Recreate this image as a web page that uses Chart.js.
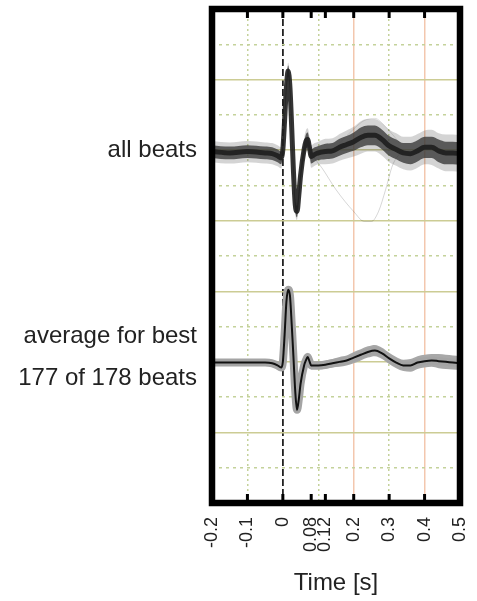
<!DOCTYPE html>
<html>
<head>
<meta charset="utf-8">
<script src="https://cdn.jsdelivr.net/npm/chart.js@4/dist/chart.umd.min.js"></script>
<style>
html,body{margin:0;padding:0;background:#fff;}
#c{display:block;}
</style>
</head>
<body>
<canvas id="c" width="477" height="601"></canvas>
<script>
// ---- data ----
const timeS = [-0.2,-0.15,-0.1,-0.05,-0.03,-0.015,-0.005,0,0.005,0.01,0.015,0.02,0.025,0.03,0.035,0.04,0.045,0.05,0.06,0.065,0.07,0.075,0.08,0.09,0.1,0.12,0.14,0.16,0.18,0.2,0.22,0.24,0.26,0.28,0.3,0.32,0.34,0.36,0.38,0.4,0.42,0.44,0.46,0.48,0.5];
const allBeatsMean = [-0.02,-0.04,-0.02,-0.04,-0.05,-0.08,-0.11,0.01,0.43,0.89,1.12,0.89,0.32,-0.31,-0.77,-0.87,-0.64,-0.36,0.01,0.12,0.15,0.04,-0.09,-0.06,-0.04,-0.02,-0.01,0.04,0.08,0.12,0.18,0.21,0.21,0.15,0.06,0.01,-0.04,-0.05,-0.01,0.04,0.04,-0.01,-0.04,-0.04,-0.05];
const allBeatsCore = [0.09,0.09,0.09,0.09,0.09,0.09,0.09,0.08,0.08,0.08,0.08,0.08,0.08,0.08,0.08,0.08,0.08,0.08,0.1,0.1,0.1,0.1,0.1,0.1,0.1,0.11,0.11,0.12,0.12,0.13,0.14,0.14,0.14,0.14,0.14,0.14,0.14,0.15,0.15,0.15,0.15,0.16,0.16,0.16,0.16];
const allBeatsOuter = [0.15,0.15,0.15,0.15,0.15,0.15,0.15,0.12,0.12,0.12,0.12,0.12,0.12,0.12,0.12,0.12,0.12,0.12,0.16,0.16,0.16,0.16,0.16,0.16,0.16,0.18,0.18,0.19,0.2,0.21,0.23,0.23,0.23,0.23,0.23,0.23,0.23,0.24,0.24,0.24,0.25,0.25,0.26,0.26,0.26];
const averageMean = [-3.01,-3.01,-3.01,-3.01,-3.02,-3.05,-3.08,-3.00,-2.61,-2.15,-1.98,-2.06,-2.47,-2.94,-3.42,-3.68,-3.53,-3.31,-3.05,-2.98,-2.93,-2.99,-3.05,-3.05,-3.05,-3.04,-3.02,-3.00,-2.98,-2.94,-2.90,-2.86,-2.84,-2.88,-2.95,-3.01,-3.05,-3.05,-3.01,-2.99,-2.98,-2.99,-3.00,-3.01,-3.02];
const averageSpread = [0.05,0.05,0.05,0.05,0.05,0.05,0.05,0.05,0.05,0.05,0.05,0.05,0.05,0.05,0.05,0.05,0.05,0.05,0.06,0.06,0.06,0.06,0.06,0.06,0.06,0.06,0.06,0.07,0.07,0.08,0.08,0.08,0.08,0.08,0.08,0.08,0.08,0.09,0.09,0.09,0.09,0.1,0.1,0.1,0.1];
const outlier1Time = [0.08,0.11,0.15,0.2,0.23,0.25,0.27,0.29,0.31,0.34];
const outlier1Vals = [-0.06,-0.25,-0.56,-0.87,-1.01,-1.01,-0.87,-0.56,-0.21,0.01];
const outlier2Time = [0.16,0.2,0.23,0.26,0.29,0.33];
const outlier2Vals = [0.1,0.3,0.42,0.45,0.33,0.1];

const xTickValues = [-0.2,-0.1,0,0.08,0.1,0.12,0.2,0.3,0.4,0.5];
const xTickLabels = ['-0.2','-0.1','0','0.08','','0.12','0.2','0.3','0.4','0.5'];
const xTickMarkValues = [-0.1,0,0.08,0.12,0.2,0.3,0.4];
const xDottedValues = [-0.1,0.1,0.3];
const xSolidValues = [0.2,0.4];
const yGridValues = [-5,-4.5,-4,-3.5,-3,-2.5,-2,-1.5,-1,-0.5,0,0.5,1,1.5,2];
const yLabelValues = [0,-2.64,-3.23];
const yLabelTexts = ['all beats','average for best','177 of 178 beats'];

// ---- build library structures ----
const pts = (ts, vs) => ts.map((t,i)=>({x:t,y:vs[i]}));
const shift = (vs, sp, s) => vs.map((v,i)=>v + s*sp[i]);

const OLIVE = '#cccc94';
const DOT = '#c4d29a';
const SALMON = '#f3c7ae';

const base = {pointRadius:0, borderWidth:0, cubicInterpolationMode:'monotone', fill:false};
const datasets = [
  Object.assign({}, base, {data:pts(timeS, averageMean), borderColor:'#111', borderWidth:2}),
  Object.assign({}, base, {data:pts(timeS, averageMean), borderColor:'#a4a4a4', borderWidth:8}),
  Object.assign({}, base, {data:pts(timeS, shift(averageMean, averageSpread, 1)), fill:'+1', backgroundColor:'#a8a8a8'}),
  Object.assign({}, base, {data:pts(timeS, shift(averageMean, averageSpread, -1))}),
  Object.assign({}, base, {data:pts(timeS, allBeatsMean), borderColor:'rgba(30,30,30,0.9)', borderWidth:5}),
  Object.assign({}, base, {data:pts(timeS, shift(allBeatsMean, allBeatsCore, 1)), fill:'+1', backgroundColor:'rgba(55,55,55,0.78)'}),
  Object.assign({}, base, {data:pts(timeS, shift(allBeatsMean, allBeatsCore, -1))}),
  Object.assign({}, base, {data:pts(timeS, shift(allBeatsMean, allBeatsOuter, 1)), fill:'+1', backgroundColor:'rgba(60,60,60,0.22)'}),
  Object.assign({}, base, {data:pts(timeS, shift(allBeatsMean, allBeatsOuter, -1))}),
  Object.assign({}, base, {data:pts(outlier1Time, outlier1Vals), borderColor:'rgba(0,0,0,0.16)', borderWidth:1}),
  Object.assign({}, base, {data:pts(outlier2Time, outlier2Vals), borderColor:'rgba(0,0,0,0.12)', borderWidth:1})
];

const has = (arr, v) => arr.some(a => Math.abs(a - v) < 1e-9);

const framePlugin = {
  id:'frame',
  afterDraw(chart){
    const {ctx, chartArea:a, scales} = chart;
    const xs = scales.x;
    ctx.save();
    ctx.strokeStyle = '#000';
    ctx.lineWidth = 3;
    xTickMarkValues.forEach(v => {
      const px = xs.getPixelForValue(v);
      ctx.beginPath();
      ctx.moveTo(px, a.top); ctx.lineTo(px, a.top + 9);
      ctx.moveTo(px, a.bottom); ctx.lineTo(px, a.bottom - 9);
      ctx.stroke();
    });
    ctx.lineWidth = 6.5;
    ctx.strokeStyle = '#000';
    ctx.strokeRect(a.left, a.top, a.right - a.left, a.bottom - a.top);
    ctx.restore();
  }
};

new Chart(document.getElementById('c'), {
  type:'line',
  data:{datasets},
  plugins:[framePlugin],
  options:{
    responsive:false,
    animation:false,
    devicePixelRatio:1,
    layout:{padding:{left:0, top:9, right:17, bottom:0}},
    plugins:{legend:{display:false}, tooltip:{enabled:false}},
    scales:{
      x:{
        type:'linear', min:-0.2, max:0.5,
        afterBuildTicks(s){ s.ticks = xTickValues.map(v=>({value:v})); },
        afterFit(s){ s.height = 98; s.paddingLeft = 0; s.paddingRight = 0; },
        border:{display:false, dash(ctx){
          const v = ctx.tick ? ctx.tick.value : null;
          if (v === null) return [];
          if (Math.abs(v) < 1e-9) return [7,3];
          if (has(xDottedValues, v)) return [2,3];
          return [];
        }},
        grid:{
          drawTicks:false,
          color(ctx){
            const v = ctx.tick ? ctx.tick.value : null;
            if (v === null) return 'rgba(0,0,0,0)';
            if (Math.abs(v) < 1e-9) return '#222';
            if (has(xDottedValues, v)) return DOT;
            if (has(xSolidValues, v)) return SALMON;
            return 'rgba(0,0,0,0)';
          },
          lineWidth(ctx){
            const v = ctx.tick ? ctx.tick.value : 0;
            if (Math.abs(v) < 1e-9) return 1.8;
            return 1.5;
          }
        },
        ticks:{
          autoSkip:false, minRotation:90, maxRotation:90, padding:14,
          color:'#222', font:{family:'"Liberation Sans", Arial, sans-serif', size:18},
          callback(v, i){ return xTickLabels[i]; }
        },
        title:{display:true, text:'Time [s]', color:'#222', padding:{top:0, bottom:3},
          font:{family:'"Liberation Sans", Arial, sans-serif', size:24}}
      },
      y:{
        type:'linear', min:-5, max:2,
        afterBuildTicks(s){
          s.ticks = yGridValues.concat(yLabelValues.filter(v=>!has(yGridValues,v))).sort((a,b)=>a-b).map(v=>({value:v}));
        },
        afterFit(s){ s.width = 212; s.paddingTop = 0; s.paddingBottom = 0; },
        border:{display:false, dash(ctx){
          const v = ctx.tick ? ctx.tick.value : null;
          if (v === null) return [];
          if (Math.abs(v - Math.round(v)) < 1e-9) return [];
          return [3,4];
        }},
        grid:{
          drawTicks:false,
          color(ctx){
            const v = ctx.tick ? ctx.tick.value : null;
            if (v === null || !has(yGridValues, v)) return 'rgba(0,0,0,0)';
            if (Math.abs(v - Math.round(v)) < 1e-9) return OLIVE;
            return DOT;
          },
          lineWidth:1.5
        },
        ticks:{
          autoSkip:false, padding:15, color:'#222',
          font:{family:'"Liberation Sans", Arial, sans-serif', size:24},
          callback(v){
            for (let i=0;i<yLabelValues.length;i++) if (Math.abs(yLabelValues[i]-v)<1e-9) return yLabelTexts[i];
            return '';
          }
        }
      }
    }
  }
});
</script>
</body>
</html>
